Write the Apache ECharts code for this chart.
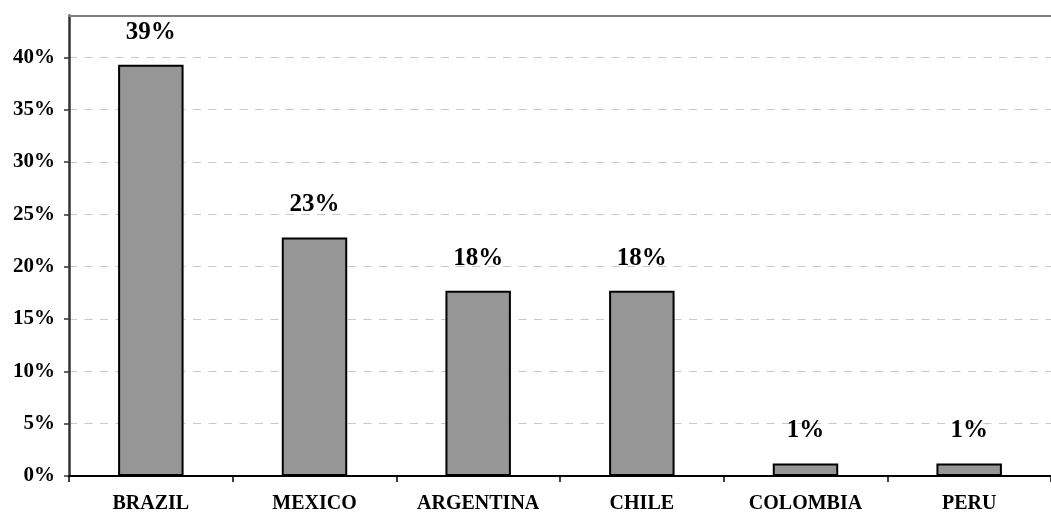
<!DOCTYPE html>
<html>
<head>
<meta charset="utf-8">
<script src="https://cdn.jsdelivr.net/npm/echarts@6/dist/echarts.min.js"></script>
<style>
	html, body { margin: 0; padding: 0; background: #fff; }
	#chart { width: 1051px; height: 514px; }
</style>
</head>
<body>
<div id="chart"></div>
<script>
// 国家 & 占比 (%)
const countries = ['BRAZIL', 'MEXICO', 'ARGENTINA', 'CHILE', 'COLOMBIA', 'PERU'];
const shares = [39.3, 22.8, 17.7, 17.7, 1.2, 1.2];
const yMin = 0;
const yMax = 44;
const yStep = 5;

const serif = "'Liberation Serif', 'Times New Roman', serif";

const option = {
	backgroundColor: '#fff',
	animation: false,
	grid: {
		left: 69,
		top: 15.5,
		right: -11,
		bottom: 36.5,
	},
	xAxis: [
		{
			type: 'category',
			data: countries,
			axisLine: {
				lineStyle: { color: '#000', width: 2 },
			},
			axisTick: {
				show: true,
				interval: 0,
				length: 6,
				lineStyle: { color: '#000', width: 1.5 },
			},
			axisLabel: {
				interval: 0,
				hideOverlap: false,
				color: '#000',
				fontFamily: serif,
				fontWeight: 'bold',
				fontSize: 20,
				margin: 18,
			},
			splitLine: { show: false },
		},
		{
			// 顶部边框
			type: 'category',
			data: countries,
			position: 'top',
			z: 5,
			axisLine: {
				lineStyle: { color: '#808080', width: 2 },
			},
			axisTick: { show: false },
			axisLabel: { show: false },
		},
	],
	yAxis: {
		type: 'value',
		min: yMin,
		max: yMax,
		interval: yStep,
		axisLine: {
			show: true,
			lineStyle: { color: '#333', width: 2.5 },
		},
		axisTick: {
			show: true,
			length: 5,
			lineStyle: { color: '#333', width: 1.5 },
		},
		axisLabel: {
			color: '#000',
			fontFamily: serif,
			fontWeight: 'bold',
			fontSize: 21,
			margin: 14,
			showMaxLabel: false,
			formatter: (v) => v + '%',
		},
		splitLine: {
			show: true,
			showMinLine: false,
			showMaxLine: false,
			lineStyle: { color: '#c8c8c8', type: [8, 7.5], width: 1.2 },
		},
	},
	series: [
		{
			type: 'bar',
			data: shares,
			barWidth: '40%',
			itemStyle: {
				color: '#969696',
				borderColor: '#000',
				borderWidth: 2,
			},
			label: {
				show: true,
				position: 'top',
				distance: 20,
				color: '#000',
				fontFamily: serif,
				fontWeight: 'bold',
				fontSize: 25,
				formatter: (p) => Math.round(p.value) + '%',
			},
		},
	],
};

const myEcharts = echarts.init(document.getElementById('chart'));
myEcharts.setOption(option);
</script>
</body>
</html>
